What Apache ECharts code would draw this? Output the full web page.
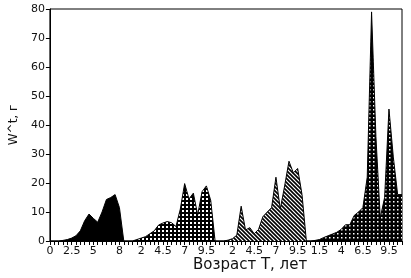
<!DOCTYPE html>
<html>
<head>
<meta charset="utf-8">
<script src="https://cdn.jsdelivr.net/npm/echarts@6/dist/echarts.min.js"></script>
<style>
  html, body { margin: 0; padding: 0; background: #fff; }
  #chart { width: 411px; height: 278px; }
</style>
</head>
<body>
<div id="chart"></div>
<script>
// four age series laid side by side on one axis, step = half a year
const ageStep = 0.5;
const segStart = [0, 17, 38, 59];

// W^t values, one per half-year, starting at age 0 of each segment
const w1 = [0, 0, 0, 0.2, 0.5, 1, 1.8, 3.5, 7, 9.3, 7.8, 6.5, 10, 14.3, 15, 16, 11.5, 0];
const w2 = [0, 0, 0, 0.5, 1, 1.5, 2.5, 3.5, 5.5, 6.2, 6.7, 6.3, 5, 11, 19.8, 14.5, 16.5, 9, 17, 19, 14, 0];
const w3 = [0, 0, 0, 0.3, 0.8, 2, 12, 3.8, 4.6, 2.5, 4, 8.4, 10, 11.5, 22, 11, 19, 27.5, 23.5, 25, 16, 0];
const w4 = [0, 0, 0.2, 0.5, 1.2, 1.8, 2.4, 3, 4, 5.6, 5.6, 8.8, 10, 11.5, 22, 79, 36, 8, 15, 45.5, 29, 16, 16];

// labelled ages under each segment
const tickAges = [
  [0, 2.5, 5, 8],
  [2, 4.5, 7, 9.5],
  [2, 4.5, 7, 9.5],
  [1.5, 4, 6.5, 9.5]
];

const yTicks = [0, 10, 20, 30, 40, 50, 60, 70, 80];

const tickText = {};
tickAges.forEach((ages, s) => {
  ages.forEach((a) => {
    tickText[segStart[s] + a / ageStep] = String(a);
  });
});

function pattern(size, draw) {
  const c = document.createElement("canvas");
  c.width = size;
  c.height = size;
  draw(c.getContext("2d"), size);
  return { image: c, repeat: "repeat" };
}

const solidFill = "#000";
const gridFill = pattern(4, (ctx, n) => {
  ctx.fillStyle = "#fff";
  ctx.fillRect(0, 0, n, n);
  ctx.fillStyle = "#000";
  ctx.fillRect(0, 0, n, 2);
  ctx.fillRect(0, 0, 2, n);
});
const stripeFill = pattern(4, (ctx, n) => {
  ctx.fillStyle = "#fff";
  ctx.fillRect(0, 0, n, n);
  ctx.strokeStyle = "#000";
  ctx.lineWidth = 1.6;
  ctx.beginPath();
  ctx.moveTo(-1, -1); ctx.lineTo(n + 1, n + 1);
  ctx.moveTo(-1, n - 1); ctx.lineTo(1, n + 1);
  ctx.moveTo(n - 1, -1); ctx.lineTo(n + 1, 1);
  ctx.stroke();
});
const dotFill = pattern(4, (ctx, n) => {
  ctx.fillStyle = "#000";
  ctx.fillRect(0, 0, n, n);
  ctx.fillStyle = "#fff";
  ctx.fillRect(1, 1, 1.5, 1.5);
});

const fills = [solidFill, gridFill, stripeFill, dotFill];
const segs = [w1, w2, w3, w4];

const chart = echarts.init(document.getElementById("chart"));

chart.setOption({
  animation: false,
  textStyle: { fontFamily: "DejaVu Sans" },
  grid: {
    left: 43,
    right: 9,
    top: 9,
    bottom: 37,
    show: true,
    borderColor: "#000",
    borderWidth: 1
  },
  xAxis: {
    type: "value",
    min: 0,
    max: 81,
    interval: 1,
    splitLine: { show: false },
    axisLine: { lineStyle: { color: "#000", width: 1 } },
    axisTick: { length: 4, lineStyle: { color: "#000" } },
    axisLabel: {
      color: "#111",
      fontSize: 11,
      margin: 5,
      formatter: (v) => tickText[v] || ""
    }
  },
  yAxis: {
    type: "value",
    min: 0,
    max: 80,
    interval: 10,
    name: "W^t, г",
    nameLocation: "middle",
    nameRotate: 90,
    nameGap: 29,
    nameTextStyle: { fontSize: 12, color: "#111" },
    splitLine: { show: false },
    axisLine: { show: true, lineStyle: { color: "#000", width: 1 } },
    axisTick: { show: true, length: 4, lineStyle: { color: "#000" } },
    axisLabel: {
      color: "#111",
      fontSize: 11,
      margin: 5,
      formatter: (v) => (yTicks.includes(v) ? String(v) : "")
    }
  },
  graphic: [
    {
      type: "text",
      left: 193,
      top: 258,
      style: {
        text: "Возраст T, лет",
        font: "15px 'DejaVu Sans'",
        fill: "#111"
      }
    }
  ],
  series: segs.map((vals, s) => ({
    type: "line",
    data: vals.map((v, k) => [segStart[s] + k, v]),
    showSymbol: false,
    lineStyle: { color: "#000", width: 1 },
    areaStyle: { color: fills[s], opacity: 1 },
    z: 2
  }))
});
</script>
</body>
</html>
